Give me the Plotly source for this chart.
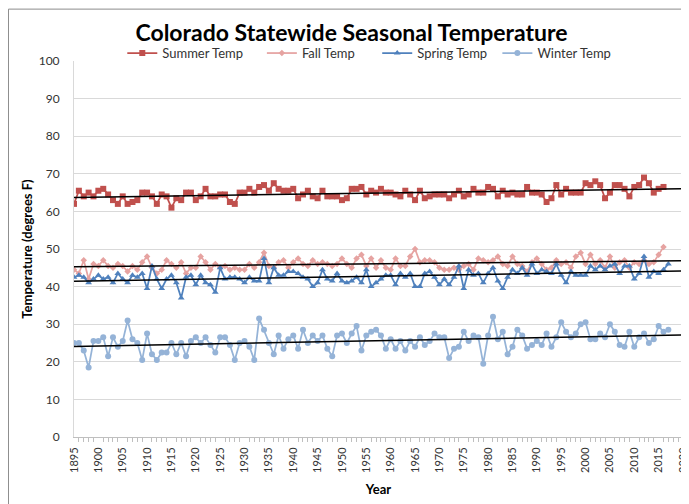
import numpy as np
import plotly.graph_objects as go

start_year = 1895
summer = [62, 65.5, 64, 65, 64, 65.5, 66, 64.5, 63, 62, 64, 62, 62.5, 63, 65, 65, 64, 62, 64.5, 64,
          61, 63.5, 63, 65, 65, 63, 64, 66, 64, 64, 64.5, 64.5, 62.5, 62, 65, 65, 66, 65, 66.5, 67,
          65.5, 67.5, 66, 65.5, 65.5, 66, 63.5, 64.5, 65.5, 64, 63.5, 65.5, 64, 64, 64, 63, 63.5, 66, 66, 66.5,
          64.5, 65.5, 65, 66, 65, 65, 64.5, 64, 65.5, 64.5, 63, 65.5, 63.5, 64, 64.5, 64.5, 64.5, 63.5, 64.5, 65.5,
          64, 64.5, 66, 65, 65, 66.5, 66, 64, 65.5, 64.5, 65, 64.5, 64.5, 66.5, 65, 65, 64.5, 62.5, 63.5, 67,
          64.5, 66, 65, 65, 65, 67.5, 67, 68, 67, 63.5, 65, 67, 67, 66, 64, 66.5, 67, 69, 67.5, 65,
          66, 66.5]
fall = [44.5, 43.5, 47, 42, 46, 45.5, 47, 45.5, 45, 46, 45.5, 44, 45.5, 44.5, 46.5, 48, 45, 43.5, 44.5, 47,
        46, 45, 46.5, 43.5, 45, 45, 48, 46.5, 44.5, 46, 45, 45.5, 44.5, 45, 44.5, 44.5, 46, 45, 46.5, 49,
        45.5, 45, 46.5, 47, 45, 46.5, 47.5, 46, 45.5, 47, 46, 46.5, 46, 45.5, 46, 47.5, 46, 45, 47.5, 48.5,
        45.5, 47.5, 45, 47, 45, 44.5, 47.5, 45.5, 45.5, 48, 50, 46.5, 47, 47, 46.5, 45, 44.5, 44.5, 45, 44.5,
        45.5, 46, 44.5, 47.5, 47, 46.5, 47, 48, 46, 45.5, 48, 46, 45.5, 44, 46.5, 47.5, 46, 44.5, 45, 47,
        46, 46.5, 45, 48, 49, 46, 48.5, 46, 47, 45, 48, 45, 46.5, 47, 45, 46.5, 46, 47, 46, 46.5,
        48.5, 50.5]
spring = [42.5, 43, 42.5, 41, 42, 43, 42, 42.5, 41, 43.5, 42, 41, 43, 42.5, 43.5, 39.5, 45.5, 42, 39.5, 42,
          43, 41, 37, 42.5, 43, 40.5, 43, 41, 40.5, 38.5, 45, 42, 42.5, 42.5, 42, 41, 42.5, 41.5, 41.5, 47.5,
          41, 45, 43, 43, 44, 44, 43.5, 42.5, 42, 40, 41, 44.5, 42, 41.5, 43.5, 41.5, 41, 41.5, 42.5, 41,
          44.5, 40, 41, 42, 43, 43, 40.5, 43.5, 42.5, 43.5, 40, 40, 43.5, 44, 42.5, 40.5, 42, 40.5, 42.5, 45.5,
          39.5, 44.5, 43, 43.5, 41, 43.5, 45, 41.5, 39.5, 42.5, 44.5, 43.5, 45, 43, 46, 43.5, 44.5, 44, 43.5, 46,
          43, 41, 44, 43, 43, 43, 45.5, 44.5, 45.5, 44.5, 45.5, 46, 43.5, 45.5, 45.5, 42, 43.5, 48, 42.5, 44,
          43.5, 44.5, 46]
winter = [25, 25, 23, 18.5, 25.5, 25.5, 26.5, 21.5, 26.5, 24, 25.5, 31, 26, 25, 20.5, 27.5, 22, 20.5, 22.5, 22.5,
          25, 22, 25, 21.5, 25.5, 26.5, 25, 26.5, 24.5, 22.5, 26.5, 26.5, 24.5, 20.5, 25, 25.5, 24, 20.5, 31.5, 28.5,
          25, 22, 27, 23.5, 26, 27, 23.5, 28.5, 25, 27, 25.5, 27, 23.5, 21.5, 27, 27.5, 25, 27.5, 29.5, 23,
          27, 28, 28.5, 27, 23.5, 26, 23.5, 25.5, 23, 25.5, 24, 26.5, 24.5, 25.5, 27.5, 26.5, 26.5, 21, 23.5, 24,
          28, 25.5, 27, 26.5, 19.5, 27, 32, 26, 28, 22, 24, 28.5, 27, 23.5, 24.5, 25.5, 24.5, 27.5, 24, 26.5,
          30.5, 28, 26.5, 27.5, 30, 30.5, 26, 26, 27.5, 26.5, 30, 28, 24.5, 24, 28, 24, 26.5, 27.5, 25, 26,
          29.5, 28, 28.5]

series = [
    ("Summer Temp", summer, "#C0504D", "square", 6, "legend", 0.0793),
    ("Fall Temp", fall, "#E6A3A1", "diamond", 5, "legend2", 0.3085),
    ("Spring Temp", spring, "#4F81BD", "triangle-up", 6, "legend3", 0.4979),
    ("Winter Temp", winter, "#95B3D7", "circle", 6, "legend4", 0.6952),
]
x_end = 2020

fig = go.Figure()
for name, vals, color, sym, size, lg, lx in series:
    yrs = np.arange(start_year, start_year + len(vals))
    fig.add_trace(go.Scatter(
        x=yrs, y=vals, mode="lines+markers", name=name, legend=lg,
        line=dict(color=color, width=1.75),
        marker=dict(symbol=sym, size=size, color=color),
    ))
for name, vals, color, sym, size, lg, lx in series:
    yrs = np.arange(start_year, start_year + len(vals))
    m, b = np.polyfit(yrs, vals, 1)
    tx = np.array([start_year, x_end])
    fig.add_trace(go.Scatter(
        x=tx, y=m * tx + b, mode="lines", showlegend=False,
        line=dict(color="black", width=1.5), hoverinfo="skip",
    ))

font = "Lato, 'Open Sans', sans-serif"
legends = {}
for name, vals, color, sym, size, lg, lx in series:
    legends[lg] = dict(orientation="h", x=lx, xanchor="left", xref="paper",
                       y=1.021, yanchor="middle", font=dict(size=13, color="#333"),
                       bgcolor="rgba(0,0,0,0)", itemwidth=30)

fig.update_layout(
    width=681, height=496,
    margin=dict(l=66, r=6, t=53, b=67, autoexpand=False),
    paper_bgcolor="white", plot_bgcolor="white",
    font=dict(family=font, color="#222", size=13),
    title=dict(text="<b>Colorado Statewide Seasonal Temperature</b>",
               x=0.5044, xanchor="center", xref="container", y=0.95, yanchor="middle",
               font=dict(size=23, color="black", family=font)),
    showlegend=True,
    shapes=[dict(type="rect", xref="paper", yref="paper",
                 x0=-0.1076, x1=1.2, y0=-0.5, y1=1.138,
                 line=dict(color="#8c8c8c", width=1), fillcolor="rgba(0,0,0,0)", layer="below")],
    **legends,
)
fig.update_xaxes(
    range=[1894.999, 2020.001], tick0=1895, dtick=5, tickangle=-90,
    showgrid=False, showline=True, linecolor="#BFBFBF", linewidth=1,
    ticks="", tickfont=dict(size=11, color="#333"), ticklabeloverflow="allow",
    ticklabelstandoff=5,
    minor=dict(ticks="outside", dtick=1, ticklen=4, tickcolor="#BFBFBF"),
    title=dict(text="<b>Year</b>", font=dict(size=13, color="black"), standoff=12),
    zeroline=False, automargin=False,
)
fig.update_yaxes(
    range=[0, 100], dtick=10, showgrid=True, gridcolor="#D9D9D9", gridwidth=1,
    showline=True, linecolor="#D9D9D9", ticks="", tickfont=dict(size=12, color="#333"),
    ticklabelstandoff=11,
    title=dict(text="<b>Temperature (degrees F)</b>", font=dict(size=13, color="black"), standoff=3),
    zeroline=False, automargin=False,
)
fig.write_html("out.html")
